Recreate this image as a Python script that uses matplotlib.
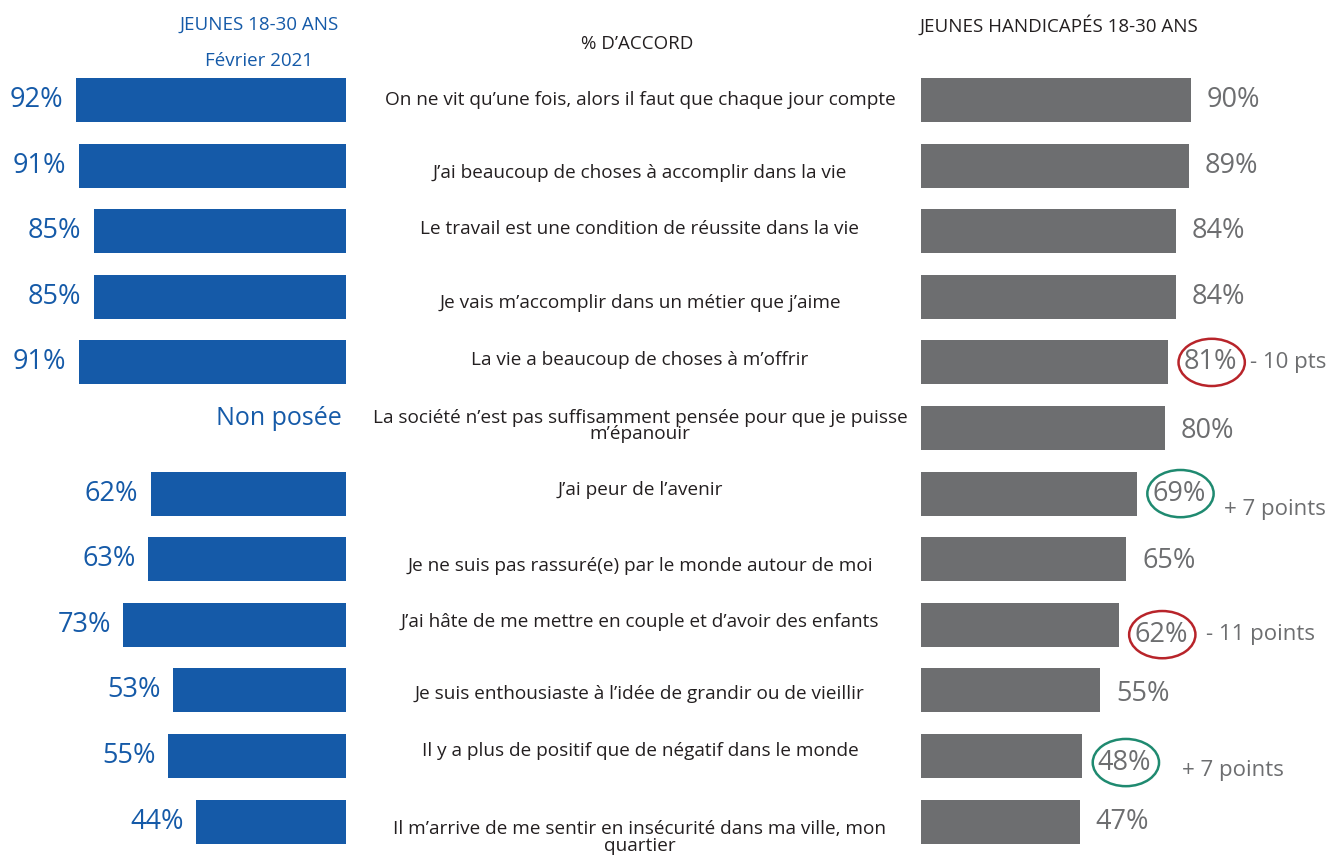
import matplotlib
matplotlib.use("Agg")
import matplotlib.pyplot as plt
from matplotlib.patches import Ellipse

plt.rcParams['font.family'] = ['Open Sans', 'DejaVu Sans']

# data
items = [
    "On ne vit qu’une fois, alors il faut que chaque jour compte",
    "J’ai beaucoup de choses à accomplir dans la vie",
    "Le travail est une condition de réussite dans la vie",
    "Je vais m’accomplir dans un métier que j’aime",
    "La vie a beaucoup de choses à m’offrir",
    "La société n’est pas suffisamment pensée pour que je puisse\nm’épanouir",
    "J’ai peur de l’avenir",
    "Je ne suis pas rassuré(e) par le monde autour de moi",
    "J’ai hâte de me mettre en couple et d’avoir des enfants",
    "Je suis enthousiaste à l’idée de grandir ou de vieillir",
    "Il y a plus de positif que de négatif dans le monde",
    "Il m’arrive de me sentir en insécurité dans ma ville, mon\nquartier",
]
jeunes = [92, 91, 85, 85, 91, None, 62, 63, 73, 53, 55, 44]
handicapes = [90, 89, 84, 84, 81, 80, 69, 65, 62, 55, 48, 47]

# highlighted differences: row index, comment, colour
notes_rows = [4, 6, 8, 10]
notes_text = ["- 10 pts", "+ 7 points", "- 11 points", "+ 7 points"]
notes_color = ["#b8242a", "#1f8a70", "#b8242a", "#1f8a70"]

# layout
W, H = 1341, 855
blue = "#155aa8"
grey_bar = "#6d6e70"
grey_txt = "#6d6e70"
dark = "#231f20"
row0, step = 100, 65.6
ylo, yhi = (H - row0) / step, -row0 / step
base_l, base_r = -16, -14
label_dy = [0, .12, -.03, .1, -.03, -.03, -.05, .1, -.05, .06, -.08, .24]
right_dy = [0, 0, 0, 0, 0, .04, 0, .03, .15, .06, .1, 0]
note_dx = [2, 4, 4, 9]
note_dy = [0, .24, .15, .22]

fig = plt.figure(figsize=(W / 100, H / 100), dpi=100)

ax = fig.add_axes([0, 0, 1, 1])
ax.set_xlim(0, W)
ax.set_ylim(ylo, yhi)
ax.axis("off")

axl = fig.add_axes([0, 0, 346 / W, 1])
axl.set_xlim(base_l + 346 / 2.5, base_l)
axl.set_ylim(ylo, yhi)
axl.axis("off")

axr = fig.add_axes([921 / W, 0, 420 / W, 1])
axr.set_xlim(base_r, base_r + 420 / 2.6)
axr.set_ylim(ylo, yhi)
axr.axis("off")

for i, v in enumerate(jeunes):
    if v is None:
        axl.text(base_l + 1.5, i - 0.15, "Non posée", color=blue, fontsize=18,
                 ha="right", va="center")
        continue
    axl.barh(i, v - base_l, left=base_l, height=0.67, color=blue)
    axl.text(v + 5, i, f"{v}%", color=blue, fontsize=19.5, ha="right", va="center")

for i, v in enumerate(handicapes):
    axr.barh(i, v - base_r, left=base_r, height=0.67, color=grey_bar)
    axr.text(v + 6, i + right_dy[i], f"{v}%", color=grey_txt, fontsize=19.5,
             ha="left", va="center")

for i, txt in enumerate(items):
    ax.text(640, i + label_dy[i], txt, color=dark, fontsize=13.7, ha="center",
            va="center", multialignment="center", linespacing=0.9)

for k, r in enumerate(notes_rows):
    v = handicapes[r]
    cx = v + 6 + 10.8
    axr.add_patch(Ellipse((cx, r + right_dy[r]), 25.5, 0.72, fill=False,
                          edgecolor=notes_color[k], linewidth=1.8))
    axr.text(cx + 12.75 + note_dx[k], r + note_dy[k], notes_text[k],
             color=grey_txt, fontsize=16, ha="left", va="center")

# headers
ax.text(259, yhi + 25 / step, "JEUNES 18-30 ANS", color=blue, fontsize=13.5,
        ha="center", va="center")
ax.text(259, yhi + 61 / step, "Février 2021", color=blue, fontsize=13.5,
        ha="center", va="center")
ax.text(637, yhi + 44 / step, "% D’ACCORD", color=dark, fontsize=13.5,
        ha="center", va="center")
ax.text(920, yhi + 25 / step, "JEUNES HANDICAPÉS 18-30 ANS", color=dark,
        fontsize=13.5, ha="left", va="center")

fig.savefig("out.png", dpi=100)
